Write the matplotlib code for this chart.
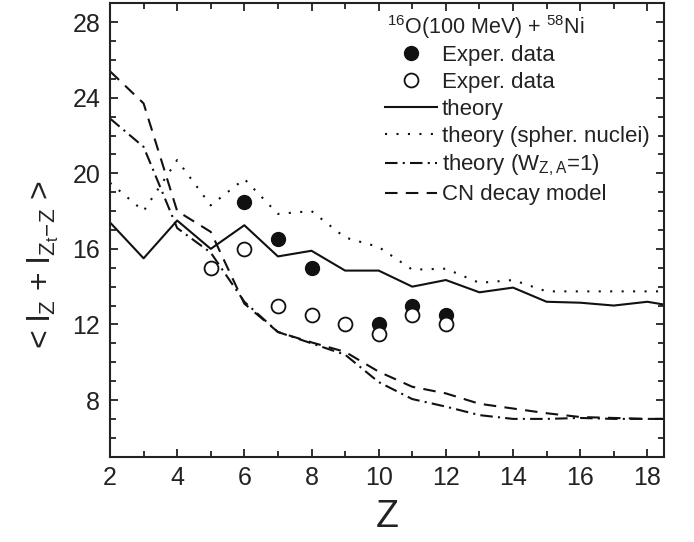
import numpy as np
import matplotlib

matplotlib.use("Agg")
import matplotlib.pyplot as plt
from matplotlib.ticker import MultipleLocator

plt.rcParams["font.family"] = ["Liberation Sans", "DejaVu Sans"]
plt.rcParams["mathtext.fontset"] = "custom"
plt.rcParams["mathtext.rm"] = "Liberation Sans"
plt.rcParams["mathtext.it"] = "Liberation Sans"

# --- data ---
z_theory = [2, 3, 4, 5, 6, 7, 8, 9, 10, 11, 12, 13, 14, 15, 16, 17, 18, 18.5]
theory = [17.4, 15.5, 17.5, 16.0, 17.25, 15.6, 15.9, 14.85, 14.85, 14.0, 14.35,
          13.7, 13.95, 13.2, 13.15, 13.0, 13.2, 13.05]
theory_sph = [19.5, 18.0, 20.7, 18.3, 19.7, 17.85, 18.0, 16.6, 16.1, 14.9, 14.95,
              14.2, 14.35, 13.75, 13.75, 13.75, 13.75, 13.75]
theory_w1 = [22.9, 21.4, 17.1, 15.8, 13.2, 11.6, 11.0, 10.4, 8.95, 8.05, 7.65,
             7.2, 7.0, 7.0, 7.05, 7.0, 7.0, 7.0]
cn_decay = [25.4, 23.7, 18.0, 16.9, 13.1, 11.6, 11.05, 10.55, 9.5, 8.7, 8.35,
            7.8, 7.55, 7.3, 7.1, 7.05, 7.0, 7.0]

z_full = [6, 7, 8, 10, 11, 12]
exp_full = [18.5, 16.5, 15.0, 12.0, 13.0, 12.5]
z_open = [5, 6, 7, 8, 9, 10, 11, 12]
exp_open = [15.0, 16.0, 13.0, 12.5, 12.0, 11.5, 12.5, 12.0]

fig = plt.figure(figsize=(6.94, 5.42), dpi=100)
ax = fig.add_axes([0.1585, 0.1574, 0.7985, 0.8366])

ink = "#111111"
lw = 1.5
ax.plot(z_full, exp_full, "o", color=ink, ms=10, zorder=5, label="Exper. data")
ax.plot(z_open, exp_open, "o", mfc="white", mec=ink, mew=1.3, ms=10, zorder=6,
        label="Exper. data")
ax.plot(z_theory, theory, "-", color=ink, lw=lw, label="theory")
ax.plot(z_theory, theory_sph, color=ink, lw=lw, linestyle=(0, (1, 4.5)),
        label="theory (spher. nuclei)")
ax.plot(z_theory, theory_w1, color=ink, lw=lw, linestyle=(0, (6, 2.5, 1, 2.5)),
        label=r"theory (W$_{\mathregular{Z,A}}$=1)")
ax.plot(z_theory, cn_decay, color=ink, lw=lw, linestyle=(0, (6, 4)),
        label="CN decay model")

ax.set_xlim(2, 18.5)
ax.set_ylim(5, 29)
ax.xaxis.set_major_locator(MultipleLocator(2))
ax.xaxis.set_minor_locator(MultipleLocator(1))
ax.yaxis.set_major_locator(MultipleLocator(4))
ax.yaxis.set_minor_locator(MultipleLocator(1))
ax.tick_params(which="both", direction="in", top=True, right=True, width=1.3,
               labelsize=18, colors="#222222")
ax.tick_params(which="major", length=6, pad=7)
ax.tick_params(which="minor", length=4)
for s in ax.spines.values():
    s.set_linewidth(1.5)
    s.set_color("#222222")

ax.set_xlabel("Z", fontsize=27, fontstyle="normal", color="#222222", labelpad=6)
ax.set_ylabel(r"< l$_{\mathregular{Z}}$ + l$_{\mathregular{Z_t\!-\!Z}}$ >", fontsize=23,
              color="#222222")
ax.yaxis.set_label_coords(-0.088, 0.425)

ax.text(0.4997, 0.933, r"$^{\mathregular{16}}$O(100 MeV) + $^{\mathregular{58}}$Ni",
        transform=ax.transAxes, fontsize=15.5, va="baseline", ha="left", color="#222222")
ax.legend(loc="upper left", bbox_to_anchor=(0.496, 0.908), frameon=False,
          fontsize=16, handlelength=2.34, handletextpad=0.22, labelspacing=0.27,
          borderpad=0, borderaxespad=0, labelcolor="#222222")

fig.savefig("out.png", dpi=100)
